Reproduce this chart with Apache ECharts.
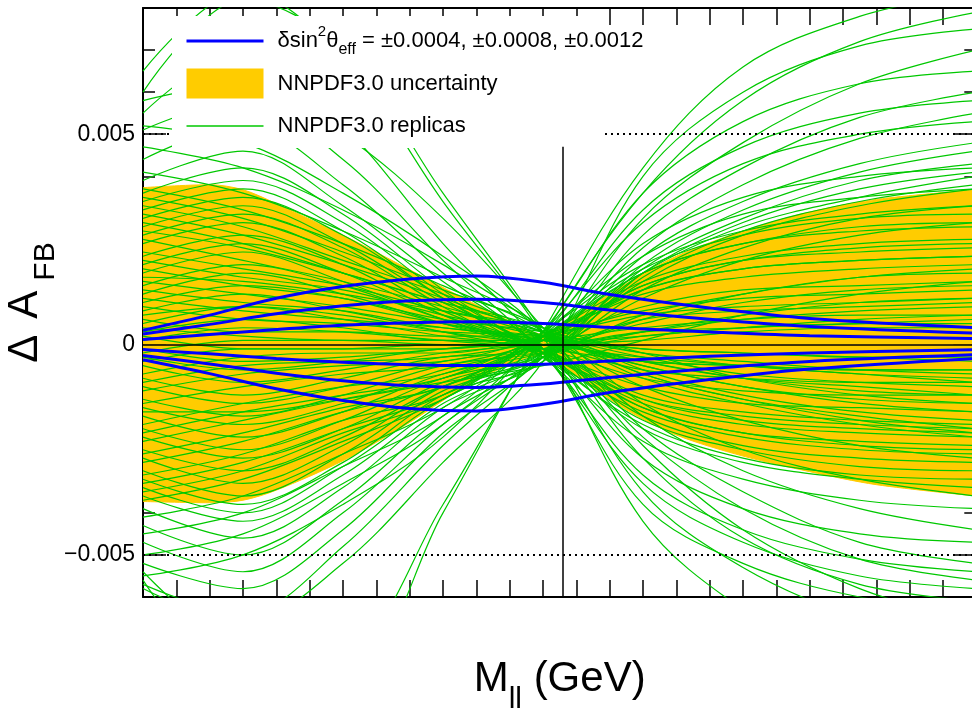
<!DOCTYPE html>
<html>
<head>
<meta charset="utf-8">
<script src="https://cdn.jsdelivr.net/npm/echarts@6/dist/echarts.min.js"></script>
<style>
  html, body { margin: 0; padding: 0; background: #fff; }
  #chart { width: 972px; height: 712px; }
</style>
</head>
<body>
<div id="chart"></div>
<script>
// ---- data -------------------------------------------------------------
// Dilepton mass points (GeV) at which every replica curve is sampled
const replicaMass = [66, 72, 78, 84, 90, 96, 102, 109, 116];

// Delta A_FB of the individual NNPDF3.0 replicas, in units of 1e-4
const replicaShifts = [
  [65, 84, 68, 34, 2, -42, -63, -78, -84],
  [60, 82, 70, 36, 3, -35, -53, -65, -70],
  [58, 62, 50, 30, 4, -24, -44, -58, -66],
  [55, 70, 52, 24, -1, -38, -52, -60, -63],
  [52, 48, 36, 21, 3, -27, -46, -57, -61],
  [51, 58, 44, 20, -2, -33, -47, -55, -58],
  [47, 42, 32, 19, 3, -22, -39, -51, -56],
  [44, 52, 38, 17, -2, -31, -44, -51, -54],
  [41, 36, 27, 16, 4, -20, -35, -47, -52],
  [39, 46, 33, 15, -1, -27, -39, -45, -47],
  [37, 32, 24, 14, 3, -17, -30, -39, -44],
  [36, 42, 31, 13, -3, -23, -32, -37, -39],
  [35, 30, 22, 13, 4, -14, -25, -32, -36],
  [34, 39, 29, 12, -2, -20, -28, -32, -34],
  [33, 28, 20, 12, 3, -7, -13, -18, -21],
  [32, 37, 27, 11, -3, -19, -27, -31, -32],
  [31, 26, 19, 11, 2, -10, -18, -24, -27],
  [30, 35, 26, 11, -2, -18, -25, -29, -30],
  [29, 24, 17, 10, 4, -6, -12, -16, -18],
  [28, 33, 24, 10, -1, -17, -24, -27, -28],
  [27, 23, 17, 10, 3, -8, -14, -19, -22],
  [26, 31, 23, 9, -3, -16, -22, -25, -26],
  [25, 20, 15, 9, 2, -5, -10, -14, -16],
  [24, 29, 21, 8, -1, -15, -21, -24, -25],
  [22, 18, 14, 8, 3, -7, -13, -17, -20],
  [21, 26, 19, 7, -2, -15, -21, -23, -24],
  [20, 16, 13, 7, 2, -4, -8, -10, -12],
  [19, 24, 17, 7, -1, -13, -18, -20, -21],
  [18, 14, 11, 6, 3, -2, -5, -7, -9],
  [17, 22, 15, 6, -2, -14, -19, -21, -22],
  [16, 15, 12, 8, 4, -2, -8, -12, -14],
  [15, 12, 9, 5, 1, -5, -10, -13, -14],
  [14, 19, 14, 6, -1, -12, -16, -18, -19],
  [13, 10, 8, 4, 2, -3, -7, -9, -10],
  [12, 17, 12, 5, -2, -13, -17, -19, -20],
  [11, 8, 6, 4, 1, -4, -8, -11, -12],
  [10, 14, 11, 5, 0, -6, -8, -9, -9],
  [9, 6, 5, 3, 2, -2, -4, -6, -7],
  [8, 12, 8, 3, -2, -10, -14, -15, -16],
  [7, 9, 7, 3, 0, -3, -5, -7, -8],
  [6, 3, 3, 2, 2, -1, -2, -3, -4],
  [5, 9, 6, 2, -1, -8, -11, -12, -12],
  [4, 2, 1, 1, 0, 3, 4, 5, 5],
  [3, 6, 4, 1, 1, -1, -2, -3, -3],
  [2, -1, -1, 0, 0, 6, 8, 9, 10],
  [1, 4, 3, 1, -1, -4, -5, -6, -6],
  [-1, -4, -3, -1, 1, 4, 6, 7, 7],
  [-2, 1, 1, 0, 0, -4, -5, -6, -6],
  [-3, -6, -4, -1, 0, 1, 3, 4, 4],
  [-4, -1, -1, -1, 2, 7, 9, 10, 11],
  [-5, -9, -6, -2, 0, 2, 4, 5, 6],
  [-7, -3, -2, -2, 2, 8, 11, 12, 13],
  [-8, -12, -8, -3, -2, 2, 4, 6, 7],
  [-9, -5, -4, -3, 1, 9, 13, 14, 15],
  [-10, -14, -10, -4, -1, 3, 6, 8, 9],
  [-11, -7, -5, -4, 2, 12, 16, 18, 19],
  [-13, -17, -12, -5, -2, 3, 7, 10, 11],
  [-14, -10, -7, -5, 1, 13, 18, 20, 21],
  [-15, -19, -14, -6, -1, 5, 10, 13, 14],
  [-16, -16, -13, -9, -5, 1, 7, 12, 15],
  [-17, -22, -16, -7, -2, 6, 12, 16, 17],
  [-19, -14, -10, -7, 2, 17, 24, 27, 28],
  [-20, -25, -18, -8, -3, 7, 12, 16, 18],
  [-21, -16, -12, -8, 1, 14, 20, 22, 23],
  [-22, -27, -20, -9, -2, 11, 20, 26, 29],
  [-23, -18, -13, -8, 2, 13, 18, 20, 21],
  [-25, -30, -22, -10, -3, 13, 23, 30, 33],
  [-26, -21, -15, -10, 2, 15, 21, 24, 25],
  [-27, -33, -24, -10, -2, 15, 26, 33, 37],
  [-28, -23, -16, -10, 1, 14, 20, 23, 24],
  [-30, -36, -26, -11, -3, 16, 27, 34, 38],
  [-31, -26, -18, -12, 2, 17, 24, 28, 29],
  [-32, -38, -28, -12, -4, 17, 29, 37, 41],
  [-33, -28, -20, -12, 3, 19, 27, 31, 33],
  [-34, -40, -29, -13, -2, 17, 28, 35, 40],
  [-35, -30, -21, -13, 2, 18, 26, 30, 31],
  [-36, -42, -31, -14, -3, 18, 30, 39, 43],
  [-37, -32, -23, -13, 3, 21, 31, 35, 37],
  [-39, -46, -34, -15, -4, 19, 32, 41, 46],
  [-41, -36, -26, -15, 2, 24, 35, 40, 42],
  [-43, -50, -37, -17, -3, 21, 34, 43, 48],
  [-45, -40, -29, -17, 3, 29, 43, 50, 53],
  [-47, -54, -40, -19, -2, 23, 38, 49, 55],
  [-50, -45, -33, -19, 2, 32, 47, 55, 58],
  [-52, -58, -44, -21, -3, 26, 42, 54, 60],
  [-55, -50, -38, -22, 3, 36, 53, 62, 65],
  [-57, -64, -48, -24, -2, 30, 48, 62, 70],
  [-58, -66, -52, -28, -4, 40, 60, 71, 75],
  [-56, -78, -75, -38, 2, 36, 58, 72, 79],
  [-54, -74, -80, -40, 3, 42, 66, 78, 84]
];

// NNPDF3.0 uncertainty band, in units of 1e-4
const bandMass  = [66, 70, 72, 74, 78, 82, 85, 88, 90, 92, 95, 98, 102, 106, 110, 116];
const bandUpper = [37.3, 38.0, 36.8, 33.5, 26.0, 17.8, 11.5, 5.6, 2.5, 7.0, 14.5, 21.0, 27.0, 31.5, 34.5, 36.8];
const bandLower = [-37.3, -37.6, -37.0, -34.6, -27.6, -18.5, -10.8, -4.7, -2.4, -7.5, -15.5, -21.5, -26.5, -30.2, -33.3, -36.0];

// Delta A_FB for shifted sin^2 theta_eff, in units of 1e-4
const weinbergMass = [66, 70, 74, 78, 82, 86, 90, 94, 100, 106, 116];
const shiftMinus12 = [3.4, 7.0, 11.0, 13.8, 15.6, 16.3, 14.8, 11.9, 8.7, 6.2, 4.0];
const shiftMinus08 = [2.5, 4.8, 7.3, 9.2, 10.4, 10.8, 10.0, 8.2, 6.0, 4.3, 2.7];
const shiftMinus04 = [1.2, 2.4, 3.6, 4.6, 5.2, 5.4, 5.0, 4.1, 3.0, 2.1, 1.4];
const shiftPlus04  = [-1.2, -2.2, -3.3, -4.2, -4.8, -5.0, -4.7, -3.9, -2.8, -2.0, -1.2];
const shiftPlus08  = [-2.6, -4.6, -6.8, -8.6, -9.8, -10.2, -9.4, -7.8, -5.7, -4.0, -2.4];
const shiftPlus12  = [-3.6, -6.9, -10.5, -13.3, -15.2, -15.8, -14.2, -11.4, -8.3, -5.8, -3.3];

// Reference lines
const zMass = 91.19;
const zLineTop = 0.0047;
const dottedLevels = [0.005, -0.005];
const yLabelValues = [-0.005, 0, 0.005];

// ---- styling ----------------------------------------------------------
const FONT = 'Liberation Sans';
const GREEN = '#00c800';
const BLUE = '#0000ff';
const YELLOW = '#ffcc00';
const UNIT = 1e-4;
const Y_MIN = -0.006, Y_MAX = 0.008;

const NAME_SIN = 'sin2theta';
const NAME_BAND = 'NNPDF3.0 uncertainty';
const NAME_REP = 'NNPDF3.0 replicas';
const legendText = {
  [NAME_SIN]: 'δsin{sup|2}θ{sub|eff} = ±0.0004, ±0.0008, ±0.0012',
  [NAME_BAND]: 'NNPDF3.0 uncertainty',
  [NAME_REP]: 'NNPDF3.0 replicas'
};

const pairs = (xs, ys) => xs.map((x, i) => [x, ys[i] * UNIT]);

const series = [];

// uncertainty band: upper half and lower half, each filled to the zero line
[bandUpper, bandLower].forEach(edge => {
  series.push({
    type: 'line', name: NAME_BAND, data: pairs(bandMass, edge),
    smooth: 0.3, symbol: 'none', silent: true, z: 1, animation: false,
    lineStyle: { color: YELLOW, width: 1 }, itemStyle: { color: YELLOW },
    areaStyle: { color: YELLOW, opacity: 1, origin: 'auto' }
  });
});

// replicas
replicaShifts.forEach(row => {
  series.push({
    type: 'line', name: NAME_REP, data: pairs(replicaMass, row),
    smooth: 0.35, symbol: 'none', silent: true, z: 2, animation: false,
    lineStyle: { color: GREEN, width: 1.2 }, itemStyle: { color: GREEN }
  });
});

// sin^2 theta_eff variations
const weinbergCurves = [shiftMinus12, shiftMinus08, shiftMinus04, shiftPlus04, shiftPlus08, shiftPlus12];
weinbergCurves.forEach((row, k) => {
  const s = {
    type: 'line', name: NAME_SIN, data: pairs(weinbergMass, row),
    smooth: 0.35, symbol: 'none', silent: true, z: 2, animation: false,
    lineStyle: { color: BLUE, width: 3 }, itemStyle: { color: BLUE }
  };
  if (k === 0) {
    // dotted guide lines at +-0.005 (kept under the legend box)
    s.markLine = {
      z: 2.5, silent: true, symbol: ['none', 'none'], animation: false, precision: 6,
      label: { show: false }, emphasis: { disabled: true },
      lineStyle: { color: '#000', width: 2, type: [2, 4] },
      data: dottedLevels.map(v => ({ yAxis: v }))
    };
  }
  if (k === weinbergCurves.length - 1) {
    // zero line and the Z-pole marker
    s.markLine = {
      z: 4, silent: true, symbol: ['none', 'none'], animation: false, precision: 6,
      label: { show: false }, emphasis: { disabled: true },
      lineStyle: { color: '#000', width: 1.5, type: 'solid' },
      data: [
        { yAxis: 0 },
        [{ coord: [zMass, Y_MIN] }, { coord: [zMass, zLineTop] }]
      ]
    };
  }
  series.push(s);
});

const frameLine = { show: true, onZero: false, lineStyle: { color: '#000', width: 2 } };
const tickStyle = { color: '#000', width: 1.5 };

const option = {
  animation: false,
  backgroundColor: '#fff',
  textStyle: { fontFamily: FONT },
  grid: { left: 143, top: 8, width: 833.3, height: 589, containLabel: false, outerBoundsMode: 'none' },
  xAxis: [
    {
      type: 'value', position: 'bottom', min: 66, max: 116, interval: 2,
      axisLine: frameLine,
      axisTick: { inside: true, length: 17, lineStyle: tickStyle },
      axisLabel: { show: false }, splitLine: { show: false },
      name: '{m|M}{s|ll}{m| (GeV)}', nameLocation: 'middle', nameGap: 46,
      nameTextStyle: {
        color: '#000',
        rich: {
          m: { fontSize: 42, lineHeight: 72, fontFamily: FONT, color: '#000' },
          s: { fontSize: 30, lineHeight: 28, verticalAlign: 'bottom', fontFamily: FONT, color: '#000' }
        }
      }
    },
    {
      type: 'value', position: 'top', min: 66, max: 116, interval: 2,
      axisLine: frameLine,
      axisTick: { inside: true, length: 17, lineStyle: tickStyle },
      axisLabel: { show: false }, splitLine: { show: false }
    }
  ],
  yAxis: [
    {
      type: 'value', position: 'left', min: Y_MIN, max: Y_MAX, interval: 0.001,
      axisLine: frameLine,
      axisTick: { inside: true, length: 12, lineStyle: tickStyle },
      axisLabel: { show: false }, splitLine: { show: false },
      name: '{d|Δ}{m|A}{s|FB}', nameLocation: 'middle', nameRotate: 90, nameGap: 82,
      nameTextStyle: {
        color: '#000',
        rich: {
          d: { fontSize: 42, lineHeight: 72, fontFamily: FONT, color: '#000', padding: [0, 16, 0, 0] },
          m: { fontSize: 42, lineHeight: 72, fontFamily: FONT, color: '#000', padding: [0, 10, 0, 0] },
          s: { fontSize: 30, lineHeight: 30, verticalAlign: 'bottom', fontFamily: FONT, color: '#000' }
        }
      }
    },
    {
      type: 'value', position: 'left', min: Y_MIN, max: Y_MAX,
      axisLine: { show: false },
      axisTick: { show: true, inside: true, length: 23, customValues: yLabelValues, lineStyle: tickStyle },
      axisLabel: {
        show: true, customValues: yLabelValues, margin: 8, fontSize: 23, color: '#000', fontFamily: FONT,
        formatter: v => (Math.abs(v) < 1e-12 ? '0' : (v < 0 ? '\u2212' : '') + Math.abs(v).toFixed(3))
      },
      splitLine: { show: false }
    },
    {
      type: 'value', position: 'right', min: Y_MIN, max: Y_MAX, interval: 0.001,
      axisLine: frameLine,
      axisTick: { inside: true, length: 12, lineStyle: tickStyle },
      axisLabel: { show: false }, splitLine: { show: false }
    },
    {
      type: 'value', position: 'right', min: Y_MIN, max: Y_MAX,
      axisLine: { show: false },
      axisTick: { show: true, inside: true, length: 23, customValues: yLabelValues, lineStyle: tickStyle },
      axisLabel: { show: false }, splitLine: { show: false }
    }
  ],
  legend: {
    orient: 'vertical', left: 180, top: 19, z: 5,
    itemWidth: 77, itemHeight: 30, itemGap: 8.5,
    selectedMode: false,
    data: [
      { name: NAME_SIN, itemStyle: { opacity: 0 }, lineStyle: { width: 3, color: BLUE } },
      { name: NAME_BAND, icon: 'rect', itemStyle: { color: YELLOW, opacity: 1 } },
      { name: NAME_REP, itemStyle: { opacity: 0 }, lineStyle: { width: 1.5, color: GREEN } }
    ],
    formatter: n => legendText[n],
    textStyle: {
      fontSize: 22, lineHeight: 34, color: '#000', fontFamily: FONT, padding: [0, 0, 0, 9],
      rich: {
        sup: { fontSize: 15, lineHeight: 15, verticalAlign: 'top', fontFamily: FONT, color: '#000' },
        sub: { fontSize: 16, lineHeight: 16, verticalAlign: 'bottom', fontFamily: FONT, color: '#000' }
      }
    }
  },
  graphic: [
    {
      type: 'rect', silent: true, z: 3,
      shape: { x: 172, y: 16, width: 433, height: 132 },
      style: { fill: '#fff' }
    }
  ],
  series: series
};

const chart = echarts.init(document.getElementById('chart'), null, { renderer: 'canvas' });
chart.setOption(option);
</script>
</body>
</html>
